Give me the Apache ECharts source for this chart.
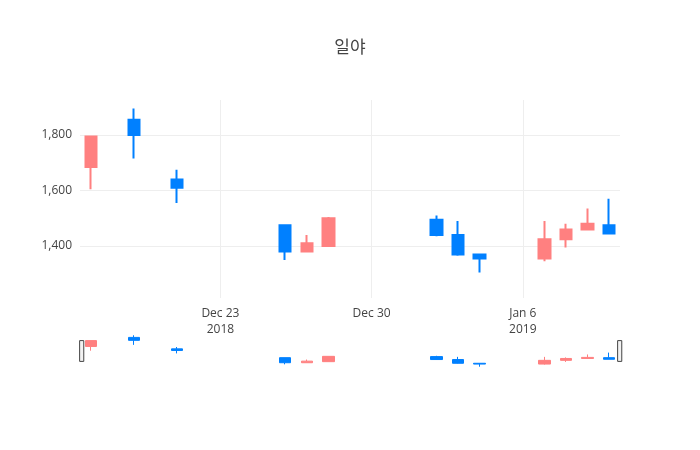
<!DOCTYPE html>
<html><head><meta charset="utf-8">
<script src="https://cdn.jsdelivr.net/npm/echarts@6/dist/echarts.min.js"></script>
<style>body{margin:0}#c{width:700px;height:450px}</style></head>
<body><div id="c"></div>
<script>
// day numbers counted from Dec 16 2018
var days = [1, 3, 5, 10, 11, 12, 17, 18, 19, 22, 23, 24, 25];
var opens  = [1685, 1855, 1640, 1475, 1380, 1400, 1495, 1440, 1370, 1355, 1425, 1460, 1475];
var closes = [1795, 1800, 1610, 1380, 1410, 1500, 1440, 1370, 1355, 1425, 1460, 1480, 1445];
var lows   = [1605, 1715, 1555, 1350, 1380, 1400, 1435, 1365, 1305, 1345, 1395, 1460, 1445];
var highs  = [1795, 1895, 1675, 1475, 1440, 1505, 1510, 1490, 1370, 1490, 1480, 1535, 1570];
var tickDays = [7, 14, 21];
var tickLabels = ['Dec 23\n2018', 'Dec 30', 'Jan 6\n2019'];
var yTicks = [1400, 1600, 1800];

var data = days.map(function (d, i) { return [d, opens[i], closes[i], lows[i], highs[i]]; });
var upColor = '#ff8080', downColor = '#0080ff';
var chart = echarts.init(document.getElementById('c'));
var candle = {
  type: 'candlestick', barWidth: 12, data: data,
  itemStyle: { color: upColor, color0: downColor, borderColor: upColor, borderColor0: downColor, borderWidth: 2 }
};
chart.setOption({
  animation: false,
  title: { text: '일야', left: 'center', top: 33, textStyle: { fontFamily: 'Noto Sans CJK KR', fontSize: 17, fontWeight: 'normal', color: '#444' } },
  grid: [
    { left: 80, right: 80, top: 100, height: 198 },
    { left: 80, right: 80, top: 335, height: 32 }
  ],
  xAxis: [
    { type: 'value', min: 0.5, max: 25.5, gridIndex: 0,
      axisLine: { show: false },
      axisTick: { show: false, customValues: tickDays },
      splitLine: { show: true, lineStyle: { color: '#eee' } },
      axisLabel: { customValues: tickDays, color: '#444', fontFamily: 'Open Sans', fontSize: 12, lineHeight: 16,
        formatter: function (v) { return tickLabels[tickDays.indexOf(v)] || ''; } } },
    { type: 'value', min: 0.5, max: 25.5, gridIndex: 1, show: false }
  ],
  yAxis: [
    { type: 'value', min: 1213, max: 1926, gridIndex: 0,
      axisLine: { show: false }, axisTick: { show: false, customValues: yTicks },
      splitLine: { lineStyle: { color: '#eee' } },
      axisLabel: { customValues: yTicks, color: '#444', fontFamily: 'Open Sans', fontSize: 12 } },
    { type: 'value', min: 1300, max: 1900, gridIndex: 1, show: false }
  ],
  dataZoom: [{
    type: 'slider', xAxisIndex: 1, filterMode: 'none', left: 80, right: 80, top: 338, height: 26,
    showDataShadow: false, showDetail: false, borderColor: 'transparent', backgroundColor: 'transparent',
    fillerColor: 'transparent', moveHandleSize: 0, brushSelect: false,
    handleIcon: 'path://M0,0 h4 v20 h-4 Z', handleSize: '80%',
    handleStyle: { color: '#f2f2f2', borderColor: '#444', borderWidth: 1 }
  }],
  series: [
    candle,
    Object.assign({}, candle, { xAxisIndex: 1, yAxisIndex: 1, itemStyle: Object.assign({}, candle.itemStyle, { borderWidth: 1 }) })
  ]
});
</script></body></html>
